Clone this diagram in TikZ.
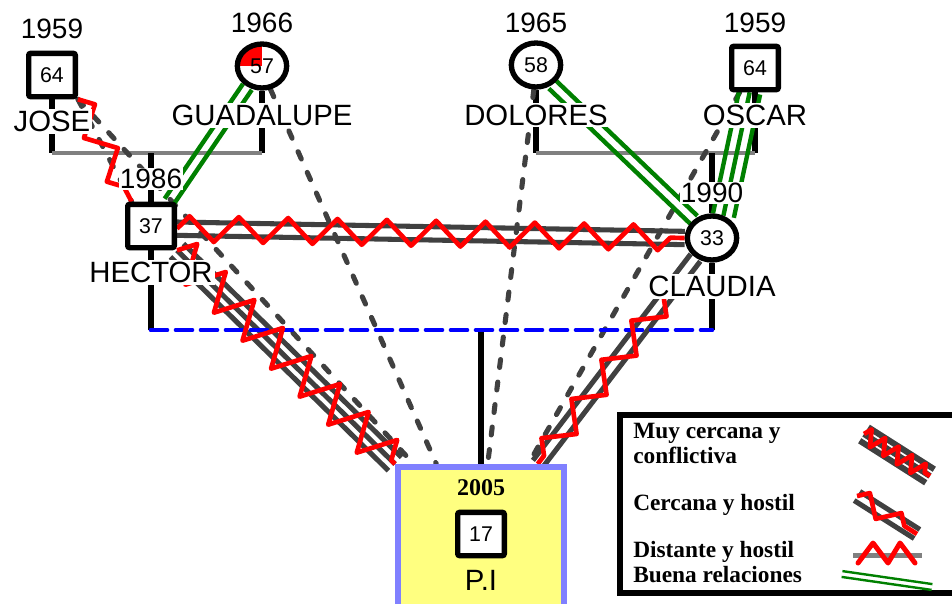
\documentclass[tikz,border=0pt]{standalone}
\usepackage{fontspec}
\setmainfont{Liberation Sans}
\newfontfamily\legfont{Liberation Serif}
\usetikzlibrary{positioning,calc,shapes.geometric,decorations.pathmorphing,backgrounds}

\definecolor{relgray}{HTML}{404040}
\definecolor{margray}{HTML}{808080}
\definecolor{okgreen}{HTML}{008000}
\definecolor{piyellow}{HTML}{FFFF80}
\definecolor{piblue}{HTML}{8080FF}

\tikzset{
  male/.style={rectangle,draw,line width=4pt,rounded corners=1.5pt,fill=white,
    minimum width=35pt,minimum height=32.5pt,inner sep=0pt,font=\fontsize{16}{16}\selectfont},
  female/.style={ellipse,draw,line width=4pt,fill=white,
    minimum width=37pt,minimum height=33pt,inner sep=0pt,font=\fontsize{16}{16}\selectfont},
  yearlbl/.style={fill=white,inner sep=1pt,font=\fontsize{21}{21}\selectfont},
  namelbl/.style={fill=white,inner sep=1.5pt,font=\fontsize{22}{22}\selectfont},
  legtxt/.style={inner sep=0pt,align=left,font=\legfont\bfseries\fontsize{17.5}{19}\selectfont},
  stemline/.style={black,line width=3.8pt},
  marline/.style={margray,line width=2.8pt},
  distrel/.style={relgray,line width=3.8pt,line cap=round,dash pattern=on 6pt off 11pt},
  closerel/.style={relgray,line width=3.8pt},
  hostrel/.style={red,line width=3.5pt,line join=round,decorate,
    decoration={zigzag,segment length=37pt,amplitude=9.5pt}},
  goodrel/.style={okgreen,line width=3.3pt}
}

\begin{document}
\begin{tikzpicture}[x=0.75pt,y=-0.75pt]
\path[use as bounding box] (0,0) rectangle (952,603);
\clip (0,0) rectangle (952,603);

% family members
\node[male] (jose) at (52,75) {64};
\node[female,path picture={\fill[red] (path picture bounding box.center) rectangle (path picture bounding box.north west);}] (guada) at (262,66) {57};
\node[female] (dolores) at (536,65) {58};
\node[male] (oscar) at (755,68) {64};
\node[male] (hector) at (151,226) {37};
\node[female] (claudia) at (712,238) {33};

\node[draw=piblue,fill=piyellow,line width=4.5pt,minimum width=124.5pt,minimum height=105pt] (pi) at (481,537) {};
\node[male] (pisq) at (481,534) {17};
\node[above=9pt of pisq,inner sep=1pt,font=\legfont\bfseries\fontsize{18}{18}\selectfont] (piyear) {2005};
\node[below=8pt of pisq,inner sep=1pt,font=\fontsize{22}{22}\selectfont] (piname) {P.I};

% years and names
\node[yearlbl,above=7.5pt of jose] (joseyr) {1959};
\node[namelbl,below=7pt of jose] (josenm) {JOSE};
\node[yearlbl,above=5pt of guada] (guadayr) {1966};
\node[namelbl,below=9pt of guada] (guadanm) {GUADALUPE};
\node[yearlbl,above=4.5pt of dolores] (doloresyr) {1965};
\node[namelbl,below=9.5pt of dolores] (doloresnm) {DOLORES};
\node[yearlbl,above=6.8pt of oscar] (oscaryr) {1959};
\node[namelbl,below=8pt of oscar] (oscarnm) {OSCAR};
\node[yearlbl,above=8.3pt of hector] (hectoryr) {1986};
\node[namelbl,below=7pt of hector] (hectornm) {HECTOR};
\node[yearlbl,above=6.5pt of claudia] (claudiayr) {1990};
\node[namelbl,below=8.4pt of claudia] (claudianm) {CLAUDIA};

\coordinate (jgbar) at (157,153);
\coordinate (dobar) at (645,153);
\coordinate (hcbar) at (430,330);
\coordinate (ghB) at ([xshift=-6pt]hector.north east);
\coordinate (ocA) at ([xshift=-4pt]oscar.south);
\coordinate (cpA) at (claudia.230);
\coordinate (cpB) at ([xshift=-22pt]pi.north east);
\coordinate (cpR) at ($(cpA)!0.2!(cpB)$);
\coordinate (hcA) at ([yshift=-2pt]hector.east);

\begin{pgfonlayer}{background}
  % unions and children
  \draw[stemline] (jose.south) -- (jose.south |- jgbar);
  \draw[stemline] (guada.south) -- (guada.south |- jgbar);
  \draw[marline] (jose.south |- jgbar) -- (guada.south |- jgbar);
  \draw[stemline] (hector.north |- jgbar) -- (hector.north);
  \draw[stemline] (dolores.south) -- (dolores.south |- dobar);
  \draw[stemline] (oscar.south) -- (oscar.south |- dobar);
  \draw[marline] (dolores.south |- dobar) -- (oscar.south |- dobar);
  \draw[stemline] (claudia.north |- dobar) -- (claudia.north);
  \draw[stemline] (hector.south) -- (hector.south |- hcbar);
  \draw[stemline] (claudia.south) -- (claudia.south |- hcbar);
  \draw[stemline,line width=4.2pt] (pi.north |- hcbar) -- (pi.north);

  % distant
  \draw[distrel] (jose.south east) -- ([xshift=5pt]hector.north west);
  \draw[distrel] (jose.south east) -- ([xshift=14pt]pi.north west);
  \draw[distrel] (guada.290) -- ([xshift=31pt]pi.north west);
  \draw[distrel] (dolores.265) -- ([xshift=5pt]pi.north);
  \draw[distrel] ([xshift=8pt]oscar.south west) -- ([xshift=-29pt]pi.north east);

  % close
  \foreach \d in {-7pt,0pt,7pt}
    \draw[closerel] ($(hector.south east)!\d!90:(pi.north west)$) -- ($(pi.north west)!\d!-90:(hector.south east)$);
  \foreach \d in {-5pt,5pt}
    \draw[closerel] ($(hcA)!\d!90:(claudia.west)$) -- ($(claudia.west)!\d!-90:(hcA)$);
  \foreach \d in {-4.5pt,4.5pt}
    \draw[closerel] ($(cpA)!\d!90:(cpB)$) -- ($(cpB)!\d!-90:(cpA)$);

  \draw[blue,line width=3.5pt,line cap=round,dash pattern=on 12pt off 6.75pt] (hector.south |- hcbar) -- (claudia.south |- hcbar);

  % hostile
  \draw[hostrel] (jose.south east) -- ([xshift=5pt]hector.north west);
  \draw[hostrel] (hcA) -- (claudia.west);
  \draw[hostrel] (cpR) -- (cpB);
  \draw[hostrel,decoration={segment length=30pt,amplitude=14pt}] (hector.south east) -- (pi.north west);

  % good
  \foreach \d in {-4pt,4pt}
    \draw[goodrel] ($(guada.235)!\d!90:(ghB)$) -- ($(ghB)!\d!-90:(guada.235)$);
  \foreach \d in {-4pt,4pt}
    \draw[goodrel] ($(dolores.310)!\d!90:(claudia.135)$) -- ($(claudia.135)!\d!-90:(dolores.310)$);
  \foreach \d in {-8pt,0pt,8pt}
    \draw[goodrel] ($(ocA)!\d!90:(claudia.63)$) -- ($(claudia.63)!\d!-90:(ocA)$);
\end{pgfonlayer}

% legend
\node[draw,line width=5pt,fill=white,minimum width=252pt,minimum height=133.5pt] (legend) at (788,504) {};
\node[legtxt,anchor=north west] (lgvery) at (633,423) {Muy cercana y\\conflictiva};
\node[legtxt,anchor=base west] (lgclose) at (633,510) {Cercana y hostil};
\node[legtxt,anchor=base west] (lgdist) at (633,557) {Distante y hostil};
\node[legtxt,anchor=base west] (lggood) at (633,582) {Buena relaciones};

\coordinate (s1a) at (864,434);
\coordinate (s1b) at (930,476);
\foreach \d in {-6pt,0pt,6pt}
  \draw[closerel,line width=4.5pt] ($(s1a)!\d!90:(s1b)$) -- ($(s1b)!\d!-90:(s1a)$);
\draw[hostrel,decoration={segment length=12pt,amplitude=6pt}] (s1a) -- (s1b);

\coordinate (s2a) at (857,496);
\coordinate (s2b) at (917,534);
\foreach \d in {-4pt,4pt}
  \draw[closerel] ($(s2a)!\d!90:(s2b)$) -- ($(s2b)!\d!-90:(s2a)$);
\draw[hostrel,decoration={segment length=28pt,amplitude=7pt}] (s2a) -- (s2b);

\coordinate (s3a) at (853,555);
\coordinate (s3b) at (922,555);
\draw[marline,line width=3.75pt] (s3a) -- (s3b);
\draw[red,line width=3.75pt,line join=round,line cap=round] (s3a) ++(5,8) -- ++(15,-20) -- ++(15,20) -- ++(12,-20) -- ++(15,20);

\coordinate (s4a) at (842,574);
\coordinate (s4b) at (932,587);
\foreach \d in {-2.2pt,2.2pt}
  \draw[goodrel,line width=1.8pt] ($(s4a)!\d!90:(s4b)$) -- ($(s4b)!\d!-90:(s4a)$);
\end{tikzpicture}
\end{document}
